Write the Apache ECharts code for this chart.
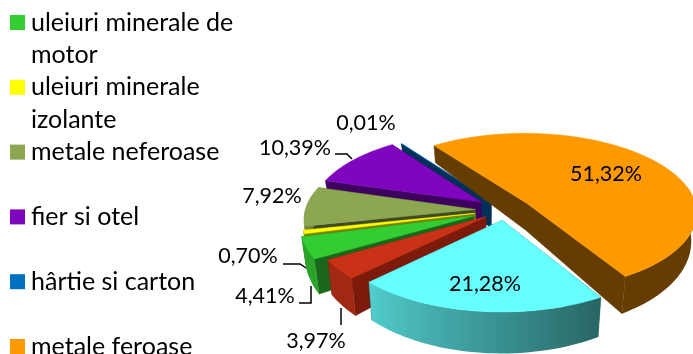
<!DOCTYPE html>
<html><head><meta charset="utf-8">
<style>html,body{margin:0;padding:0;background:#fff}#c{width:693px;height:354px}</style>
<script src="https://cdn.jsdelivr.net/npm/echarts@6/dist/echarts.min.js"></script>
</head><body><div id="c"></div>
<script>
// Data, in pie order (clockwise from the first slice)
const sliceValues = [51.32,21.28,3.97,4.41,0.70,7.92,10.39,0.01];
const sliceExplode = [0.155,0.13,0.14,0.2,0.18,0.175,0.175,0.14];
const sliceColors = ['#FF9900','#66FFFF','#C93216','#33CC33','#FFFF00','#8DA652','#7F06BE','#0070C0'];
const cutColors = ['#663D00','#2B6666','#7C1B0B','#1A661A','#808000','#3F4A25','#3D005F','#00305A'];
// Legend rows
const legendLabels = [['uleiuri minerale de','motor'],['uleiuri minerale','izolante'],['metale neferoase'],['fier si otel'],['hârtie si carton'],['metale feroase']];
const legendColors = ['#33CC33','#FFFF00','#8DA652','#7F06BE','#0070C0','#FF9900'];
// Hand-placed label centres, in slice order
const labelCentres = [[606,174],[485,284],[316,341],[265,296],[248,256],[272,196],[295,148],[366,123]];
const leaders = [[[335,154],[347,154],[352,159]],[[283,264],[300,264],[306,268]],[[299,303],[311,303],[311,286]],[[341,308],[341,325]]];
// Projection of the pie
const P = {cx:505,cy:210,R:170,t:0.465,k:0.11,start:-36,depth:28,depthV:12,lean:0.025};
const FONT = 'Lato';
const rad = d=>d*Math.PI/180;
function project(u,v){const w=1-P.k*v;return [P.cx+P.R*u/w,P.cy+P.R*P.t*v/w];}
function down(p,v){return [p[0]-P.lean*(p[0]-490),p[1]+P.depth+P.depthV*v];}
function hex(c,s){const n=parseInt(c.slice(1),16);const f=x=>Math.round(x*s);return `rgb(${f(n>>16&255)},${f(n>>8&255)},${f(n&255)})`;}
function rimShade(a){a=((a%360)+360)%360;if(a<=150)return .4;if(a>=224)return .8;return .4+.4*(a-150)/74;}
const total = sliceValues.reduce((a,b)=>a+b,0);
let acc=P.start;
const rows = sliceValues.map((val,i)=>{const a0=acc;acc+=val/total*360;const mid=(a0+acc)/2;return [i,a0,acc,-Math.cos(rad(mid)),val];});
rows.sort((a,b)=>a[3]-b[3]); // back to front
function renderItem(params,api){
  const i=api.value(0),a0=api.value(1),a1=api.value(2),mid=(a0+a1)/2;
  const e=sliceExplode[i];
  const eu=e*Math.sin(rad(mid)),ev=-e*Math.cos(rad(mid));
  const pt=a=>{const v=-Math.cos(rad(a))+ev;return {top:project(Math.sin(rad(a))+eu,v),v};};
  const steps=Math.max(1,Math.ceil((a1-a0)/2));
  const arc=[];for(let s=0;s<=steps;s++)arc.push(a0+(a1-a0)*s/steps);
  const apexTop=project(eu,ev),apexBot=down(apexTop,ev);
  const kids=[];
  const poly=(pts,fill)=>kids.push({type:'polygon',shape:{points:pts},style:{fill,stroke:typeof fill==='string'?fill:null,lineWidth:.5}});
  const p0=pt(a0),p1=pt(a1);
  if(a1-a0>150){
    // a wide slice: its two cut faces read as one continuous wall
    poly([p0.top,apexTop,p1.top,down(p1.top,p1.v),apexBot,down(p0.top,p0.v)],cutColors[i]);
  }else{
    [p0,p1].forEach(p=>poly([apexTop,p.top,down(p.top,p.v),apexBot],cutColors[i]));
  }
  // outer rim: the part of the arc facing the viewer, one shape with a lit gradient
  const front=arc.filter(a=>-Math.cos(rad(a))>-.25);
  if(front.length>1){
    const upper=front.map(a=>pt(a).top),lower=front.map(a=>{const p=pt(a);return down(p.top,p.v);}).reverse();
    const xs=upper.map(p=>p[0]);const x0=Math.min(...xs),x1=Math.max(...xs);
    const stops=front.map((a,s)=>({offset:x1>x0?Math.min(1,Math.max(0,(upper[s][0]-x0)/(x1-x0))):0,color:hex(sliceColors[i],rimShade(a))})).sort((p,q)=>p.offset-q.offset);
    poly(upper.concat(lower),{type:'linear',x:x0,y:0,x2:x1===x0?x0+1:x1,y2:0,global:true,colorStops:stops});
  }
  poly([apexTop].concat(arc.map(a=>pt(a).top)),sliceColors[i]);
  return {type:'group',children:kids};
}
const graphics=[];
legendLabels.forEach((lines,r)=>{
  const y=22.5+64.8*r;
  graphics.push({type:'rect',shape:{x:10,y:y-7.5,width:15,height:15},style:{fill:legendColors[r]},silent:true});
  lines.forEach((t,l)=>graphics.push({type:'text',x:31,y:y+32.3*l,style:{text:t,fill:'#000',font:`25px ${FONT}`,verticalAlign:'middle'},silent:true}));
});
leaders.forEach(p=>graphics.push({type:'polyline',shape:{points:p},style:{stroke:'#000',lineWidth:1.5,fill:null},silent:true}));
sliceValues.forEach((v,i)=>graphics.push({type:'text',x:labelCentres[i][0],y:labelCentres[i][1],z:10,style:{text:v.toFixed(2).replace('.',',')+'%',fill:'#000',font:`21.5px ${FONT}`,align:'center',verticalAlign:'middle'},silent:true}));
const chart=echarts.init(document.getElementById('c'),null,{renderer:'canvas'});
chart.setOption({animation:false,backgroundColor:'#fff',
  series:[{type:'custom',coordinateSystem:'none',renderItem,data:rows,silent:true,clip:false,z:1}],
  graphic:graphics});
</script></body></html>
